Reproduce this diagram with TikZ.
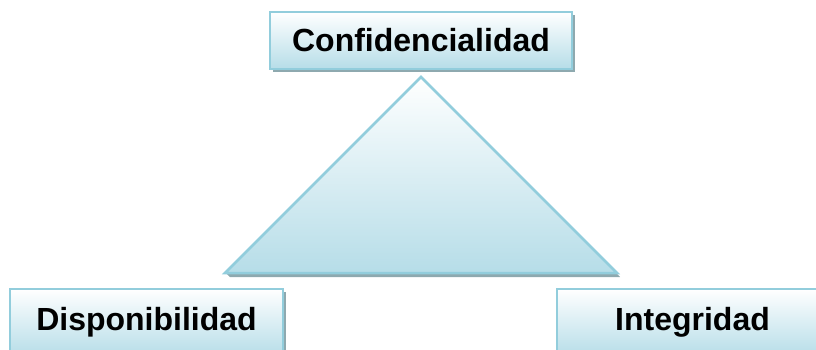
\documentclass[tikz,border=0pt]{standalone}
\usepackage{fontspec}
\setmainfont{Liberation Sans}
\usetikzlibrary{positioning,shadows,calc}
\definecolor{edgeblue}{HTML}{92CDDC}
\definecolor{fillblue}{HTML}{B6DDE8}
\definecolor{shadowgray}{HTML}{8EA9AF}

\begin{document}
\begin{tikzpicture}[
    x=1pt, y=1pt,
    boxnode/.style={
        rectangle, draw=edgeblue, line width=2.5pt,
        top color=white, bottom color=fillblue,
        drop shadow={shadow xshift=3pt, shadow yshift=-3pt, fill=shadowgray, opacity=1},
        font=\fontsize{32}{38}\selectfont\bfseries, inner sep=0pt
      },
  ]
  \useasboundingbox (0,0) rectangle (816,349);
  % triangle
  \coordinate (apex) at (421,272);
  \coordinate (baseL) at (225,76);
  \coordinate (baseR) at (617,76);
  \fill[shadowgray] ($(baseL)+(5,-4)$) -- ($(baseR)+(3,-4)$) -- ($(baseR)+(-1,0)$) -- ($(baseL)+(1,0)$) -- cycle;
  \draw[edgeblue, line width=2.5pt, top color=white, bottom color=fillblue]
    (apex) -- (baseR) -- (baseL) -- cycle;
  % boxes
  \node[boxnode, minimum width=302pt, minimum height=57pt](conf) at (421,308.5) {Confidencialidad};
  \node[boxnode, minimum width=273pt, minimum height=67pt](disp) at (146.5,26.5) {Disponibilidad};
  \node[boxnode, minimum width=271pt, minimum height=67pt](integ) at (692.5,26.5) {Integridad};
\end{tikzpicture}
\end{document}
